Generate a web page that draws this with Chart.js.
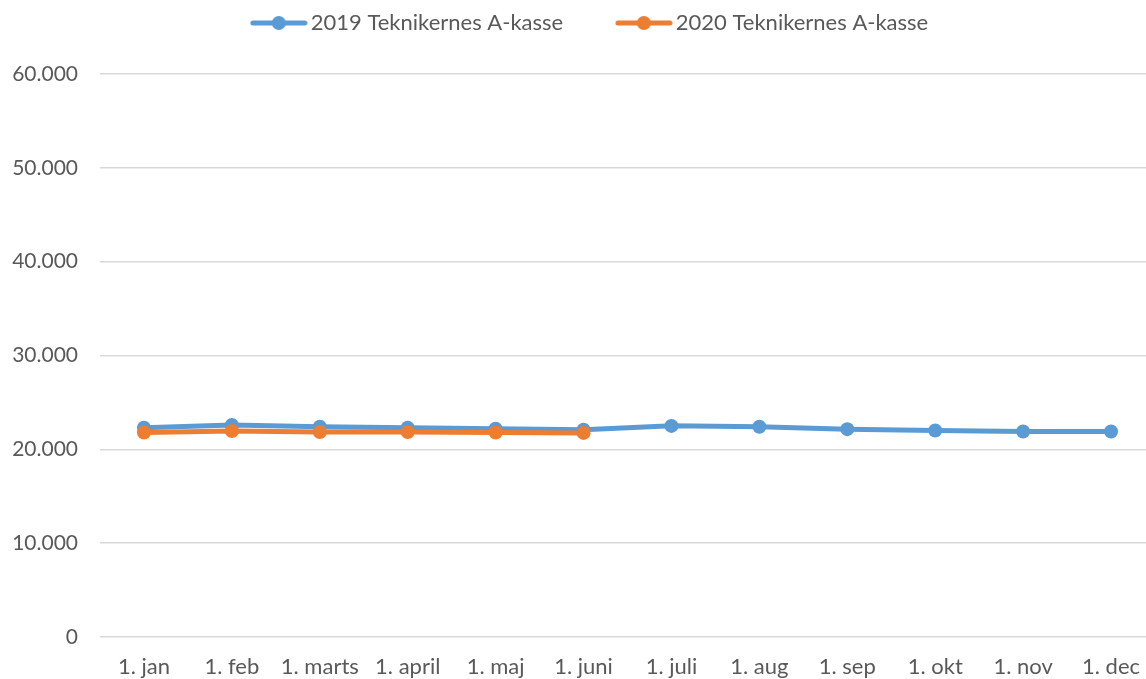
<!DOCTYPE html>
<html>
<head>
<meta charset="utf-8">
<script src="https://cdn.jsdelivr.net/npm/chart.js@4"></script>
<style>
  html, body { margin: 0; padding: 0; background: #fff; overflow: hidden; }
  #wrap { width: 1146px; height: 679px; overflow: hidden; }
</style>
</head>
<body>
<!-- the original plot runs a little past the right edge, so the canvas is wider than the view -->
<div id="wrap"><canvas id="myChart" width="1155" height="679"></canvas></div>
<script>
const months = ['1. jan', '1. feb', '1. marts', '1. april', '1. maj', '1. juni',
    '1. juli', '1. aug', '1. sep', '1. okt', '1. nov', '1. dec'];
const values2019 = [22300, 22600, 22400, 22300, 22200, 22100, 22500, 22400, 22150, 22000, 21900, 21900];
const values2020 = [21800, 21950, 21850, 21850, 21800, 21750];
const seriesNames = ['2019 Teknikernes A-kasse', '2020 Teknikernes A-kasse'];
const seriesColors = ['#5B9BD5', '#ED7D31'];
const yTicks = [0, 10000, 20000, 30000, 40000, 50000, 60000];

// legend marker: short line with a dot in the middle
const legendMarker = (color) => {
    const c = document.createElement('canvas');
    c.width = 58;
    c.height = 16;
    const ctx = c.getContext('2d');
    ctx.strokeStyle = color;
    ctx.lineWidth = 5;
    ctx.lineCap = 'round';
    ctx.beginPath();
    ctx.moveTo(3, 8);
    ctx.lineTo(55, 8);
    ctx.stroke();
    ctx.fillStyle = color;
    ctx.beginPath();
    ctx.arc(29, 8, 7, 0, Math.PI * 2);
    ctx.fill();
    return c;
}
const markers = seriesColors.map(legendMarker);

const fmt = (v) => v === 0 ? '0' : v.toLocaleString('da-DK');

// fixed legend block height, and legend centred where the original has it
const legendPlace = {
    id: 'legendPlace',
    beforeInit(chart) {
        const origFit = chart.legend.fit;
        chart.legend.fit = function () {
            origFit.call(this);
            this.height = 74;
        };
    },
    afterLayout(chart) {
        const lg = chart.legend;
        const shift = 593 - (lg.left + lg.right) / 2;
        lg.left += shift;
        lg.right += shift;
    }
};

const data = {
    labels: months,
    datasets: [
        {
            label: seriesNames[0],
            data: values2019,
            borderColor: seriesColors[0],
            backgroundColor: seriesColors[0],
            borderWidth: 5,
            pointRadius: 7,
            pointHoverRadius: 7,
            pointBorderWidth: 0,
            order: 2
        },
        {
            label: seriesNames[1],
            data: values2020,
            borderColor: seriesColors[1],
            backgroundColor: seriesColors[1],
            borderWidth: 5,
            pointRadius: 7,
            pointHoverRadius: 7,
            pointBorderWidth: 0,
            order: 1
        }
    ]
};

const config = {
    type: 'line',
    data: data,
    plugins: [legendPlace],
    options: {
        responsive: false,
        animation: false,
        layout: { autoPadding: false, padding: { left: 10, right: 0, top: 0, bottom: 0 } },
        plugins: {
            tooltip: { enabled: false },
            legend: {
                position: 'top',
                labels: {
                    usePointStyle: true,
                    pointStyleWidth: 42,
                    color: '#595959',
                    font: { family: 'Lato', size: 22 },
                    padding: 12,
                    generateLabels: (chart) => chart.data.datasets.map((ds, i) => ({
                        // em/en spaces widen the gap between the two entries
                        text: i === 0 ? ds.label + '\u2003\u2003\u2002\u2006' : ds.label,
                        pointStyle: markers[i],
                        fillStyle: ds.borderColor,
                        strokeStyle: ds.borderColor,
                        lineWidth: 0,
                        fontColor: '#595959',
                        datasetIndex: i
                    }))
                }
            }
        },
        scales: {
            x: {
                offset: true,
                grid: { display: false, drawTicks: false },
                border: { display: false },
                afterFit: (scale) => {
                    scale.height = 42;
                    scale.paddingLeft = 0;
                    scale.paddingRight = 0;
                },
                ticks: {
                    color: '#595959',
                    font: { family: 'Lato', size: 22 },
                    padding: 17,
                    maxRotation: 0,
                    autoSkip: false
                }
            },
            y: {
                min: 0,
                max: 60000,
                grid: { color: '#d9d9d9', lineWidth: 1.5, drawTicks: false },
                border: { display: false },
                afterFit: (scale) => { scale.width = 90; },
                afterBuildTicks: (scale) => {
                    scale.ticks = yTicks.map((v) => ({ value: v }));
                },
                ticks: {
                    color: '#595959',
                    font: { family: 'Lato', size: 21 },
                    padding: 22,
                    callback: (v) => fmt(v)
                }
            }
        }
    }
};

const myChart = new Chart(document.getElementById('myChart'), config);
</script>
</body>
</html>
